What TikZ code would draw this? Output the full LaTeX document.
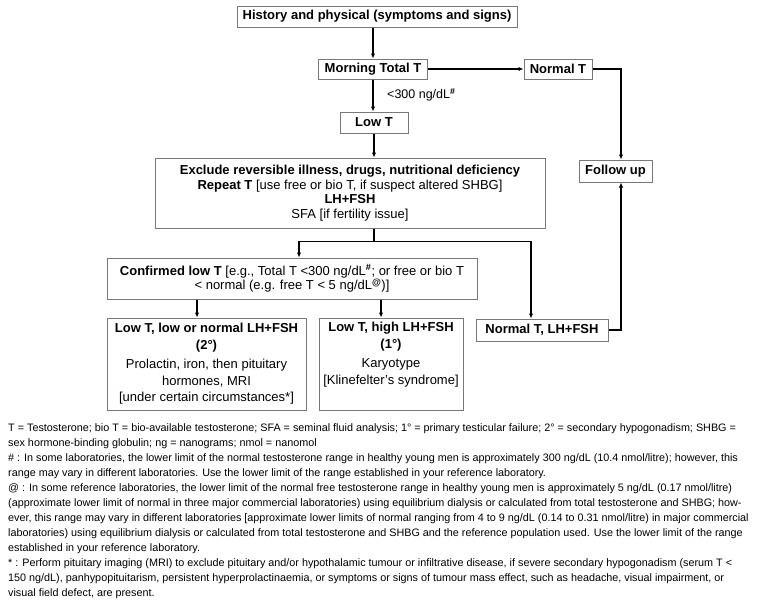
\documentclass[tikz,border=0pt]{standalone}
\usepackage{fontspec}
\setmainfont{Liberation Sans}
\usetikzlibrary{arrows.meta}
\definecolor{boxgray}{RGB}{120,120,120}
\begin{document}
\begin{tikzpicture}[x=1pt,y=-1pt,
 box/.style={draw=boxgray, line width=1pt, inner sep=0pt, align=center, font=\fontsize{13}{14.5}\selectfont},
 conn/.style={line width=1.3pt, -{Latex[length=5pt,width=4.5pt]}},
 plainline/.style={line width=1.3pt},
 lbl/.style={inner sep=0pt, font=\fontsize{12.5}{14}\selectfont},
 fn/.style={anchor=west, inner sep=0pt, font=\fontsize{10.8}{12}\selectfont}]
\useasboundingbox (0,0) rectangle (760,600);
\fill[white] (0,0) rectangle (760,600);

\node[box, minimum width=280, minimum height=21] (hist) at (377,16.5) {\textbf{History and physical (symptoms and signs)}};
\node[box, minimum width=109, minimum height=20] (morning) at (373,69) {\textbf{Morning Total T}};
\node[box, minimum width=68, minimum height=20] (normT) at (558,69) {\textbf{Normal T}};
\node[box, minimum width=68, minimum height=21] (lowT) at (374,122.5) {\textbf{Low T}};
\node[box, minimum width=390, minimum height=70] (exclude) at (350,193) {\textbf{Exclude reversible illness, drugs, nutritional deficiency}\\
\textbf{Repeat T} [use free or bio T, if suspect altered SHBG]\\
\textbf{LH+FSH}\\
SFA [if fertility issue]};
\node[box, minimum width=73, minimum height=22] (follow) at (615.5,171) {\textbf{Follow up}};
\node[box, minimum width=370, minimum height=41] (confirmed) at (292,278.5) {\textbf{Confirmed low T} [e.g., Total T <300 ng/dL\textsuperscript{\textbf{\#}}; or free or bio T\\
< normal (e.g. free T < 5 ng/dL\textsuperscript{\textbf{@}})]};
\node[box, minimum width=199, minimum height=92, font=\fontsize{13}{16.5}\selectfont] (lowlow) at (206.5,364) {\textbf{Low T, low or normal LH+FSH}\\
\textbf{(2°)}\\[3pt]
Prolactin, iron, then pituitary\\
hormones, MRI\\
{[}under certain circumstances*]};
\node[box, minimum width=144, minimum height=92, font=\fontsize{13}{16.5}\selectfont] (lowhigh) at (391,364) {\textbf{Low T, high LH+FSH}\\
\textbf{(1°)}\\[3pt]
Karyotype\\
{[}Klinefelter's syndrome]\\
\strut};
\node[box, minimum width=132, minimum height=22] (normLH) at (542,330) {\textbf{Normal T, LH+FSH}};

\node[lbl, anchor=west] (cut) at (387,95) {<300 ng/dL\textsuperscript{\textbf{\#}}};

\draw[conn] (hist.south -| morning.north) -- (morning.north);
\draw[conn] (morning.east) -- (normT.west);
\draw[conn] (morning.south) -- (morning.south |- lowT.north);
\draw[conn] (lowT.south) -- (lowT.south |- exclude.north);
\draw[conn] (normT.east) -| ([xshift=5.5pt]follow.north);
\draw[conn] (normLH.east) -| ([xshift=5.5pt]follow.south);
\coordinate (sp) at ([yshift=-13pt]exclude.south -| lowT.south);
\coordinate (cin) at ([xshift=7pt]confirmed.north);
\coordinate (nin) at ([xshift=-11pt]normLH.north);
\draw[plainline] (exclude.south -| lowT.south) -- (sp);
\draw[conn] (sp) -| (cin);
\draw[conn] (sp) -| (nin);
\coordinate (a1) at ([xshift=-9.5pt]lowlow.north);
\coordinate (a2) at ([xshift=-10pt]lowhigh.north);
\draw[conn] (confirmed.south -| a1) -- (a1);
\draw[conn] (confirmed.south -| a2) -- (a2);

\node[fn] (fn1) at (8,429) {T = Testosterone; bio T = bio-available testosterone; SFA = seminal fluid analysis; 1° = primary testicular failure; 2° = secondary hypogonadism; SHBG =};
\node[fn] (fn2) at (8,444) {sex hormone-binding globulin; ng = nanograms; nmol = nanomol};
\node[fn] (fn3) at (8,459) {\# : In some laboratories, the lower limit of the normal testosterone range in healthy young men is approximately 300 ng/dL (10.4 nmol/litre); however, this};
\node[fn] (fn4) at (8,474) {range may vary in different laboratories. Use the lower limit of the range established in your reference laboratory.};
\node[fn] (fn5) at (8,489) {@ : In some reference laboratories, the lower limit of the normal free testosterone range in healthy young men is approximately 5 ng/dL (0.17 nmol/litre)};
\node[fn] (fn6) at (8,504) {(approximate lower limit of normal in three major commercial laboratories) using equilibrium dialysis or calculated from total testosterone and SHBG; how-};
\node[fn] (fn7) at (8,519) {ever, this range may vary in different laboratories [approximate lower limits of normal ranging from 4 to 9 ng/dL (0.14 to 0.31 nmol/litre) in major commercial};
\node[fn] (fn8) at (8,534) {laboratories) using equilibrium dialysis or calculated from total testosterone and SHBG and the reference population used. Use the lower limit of the range};
\node[fn] (fn9) at (8,549) {established in your reference laboratory.};
\node[fn] (fn10) at (8,564) {* : Perform pituitary imaging (MRI) to exclude pituitary and/or hypothalamic tumour or infiltrative disease, if severe secondary hypogonadism (serum T <};
\node[fn] (fn11) at (8,579) {150 ng/dL), panhypopituitarism, persistent hyperprolactinaemia, or symptoms or signs of tumour mass effect, such as headache, visual impairment, or};
\node[fn] (fn12) at (8,594) {visual field defect, are present.};
\end{tikzpicture}
\end{document}
